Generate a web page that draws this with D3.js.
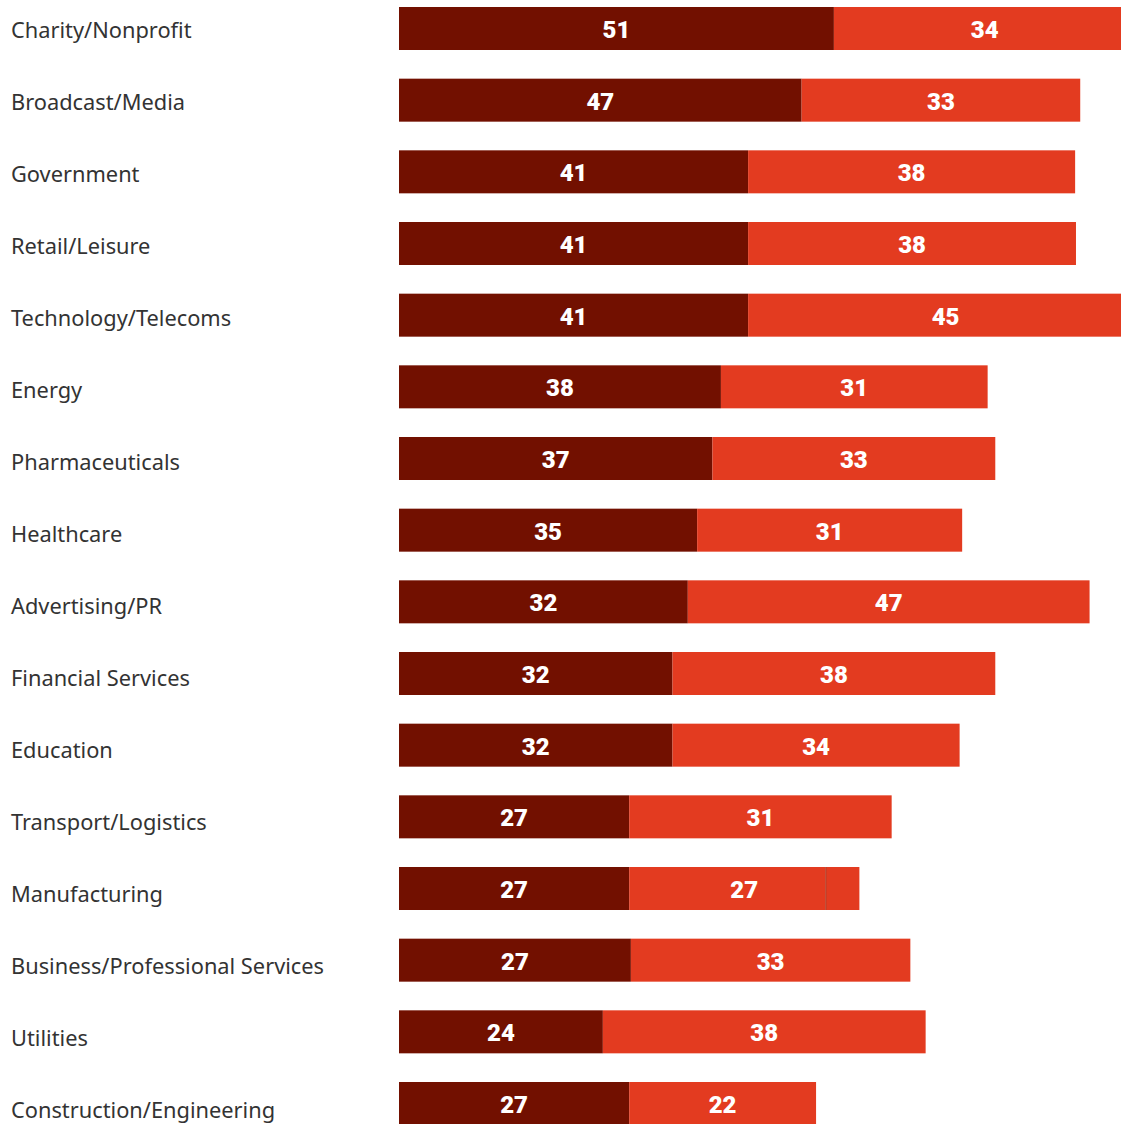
<!DOCTYPE html>
<html>
<head>
<meta charset="utf-8">
<script src="https://cdn.jsdelivr.net/npm/d3@7"></script>
<style>
  body { margin: 0; background: #fff; }
  .cat { font-family: "Noto Sans", "Open Sans", sans-serif; font-size: 21.8px; fill: #333; }
  .val { font-family: Roboto, Lato, sans-serif; font-weight: 900; font-size: 24px; fill: #fff; }
</style>
</head>
<body>
<div id="chart"></div>
<script>
// industries, top to bottom
var sectors = ["Charity/Nonprofit", "Broadcast/Media", "Government", "Retail/Leisure",
  "Technology/Telecoms", "Energy", "Pharmaceuticals", "Healthcare", "Advertising/PR",
  "Financial Services", "Education", "Transport/Logistics", "Manufacturing",
  "Business/Professional Services", "Utilities", "Construction/Engineering"];

// printed labels
var firstLabels = [51, 47, 41, 41, 41, 38, 37, 35, 32, 32, 32, 27, 27, 27, 24, 27];
var secondLabels = [34, 33, 38, 38, 45, 31, 33, 31, 47, 38, 34, 31, 27, 33, 38, 22];

// segment lengths as drawn
var firstLen = [51.2, 47.4, 41.1, 41.1, 41.1, 37.9, 36.9, 35.1, 34.0, 32.2, 32.2, 27.1, 27.1, 27.3, 24.0, 27.1];
var secondLen = [35.5, 32.8, 38.5, 38.6, 46.5, 31.4, 33.3, 31.2, 47.3, 38.0, 33.8, 30.9, 23.1, 32.9, 38.0, 22.0];
var extraLen = [0, 0, 0, 0, 0, 0, 0, 0, 0, 0, 0, 0, 4.0, 0, 0, 0];

var svgWidth = 1121, svgHeight = 1124;
var margin = { top: 7, left: 399 };
var bh = 43;

var svg = d3.select("#chart").append("svg")
  .attr("width", svgWidth)
  .attr("height", svgHeight);

var x = d3.scaleLinear().domain([0, 85]).range([margin.left, margin.left + 722]);

// top edge of each bar
var y = d3.scalePoint().domain(sectors).range([margin.top, 1082]);

// category labels sit on a slightly different rhythm
var yLabel = d3.scalePoint().domain(sectors).range([30, 30 + 72 * 15]);

var rows = sectors.map(function(s, i) {
  return { name: s, a: firstLen[i], b: secondLen[i], c: extraLen[i], la: firstLabels[i], lb: secondLabels[i] };
});

var g = svg.selectAll(".row").data(rows).enter().append("g")
  .attr("transform", d => `translate(0, ${y(d.name)})`);

g.append("rect")
  .attr("x", x(0))
  .attr("width", d => x(d.a) - x(0))
  .attr("height", bh)
  .attr("fill", "#721000");

g.append("rect")
  .attr("x", d => x(d.a))
  .attr("width", d => x(d.a + d.b) - x(d.a))
  .attr("height", bh)
  .attr("fill", "#e33b20");

g.filter(d => d.c > 0).append("rect")
  .attr("x", d => x(d.a + d.b))
  .attr("width", d => x(d.a + d.b + d.c) - x(d.a + d.b))
  .attr("height", bh)
  .attr("fill", "#e33b20");

g.filter(d => d.c > 0).append("line")
  .attr("x1", d => x(d.a + d.b) + 0.5)
  .attr("x2", d => x(d.a + d.b) + 0.5)
  .attr("y1", 0).attr("y2", bh)
  .attr("stroke", "#a8402c")
  .attr("stroke-width", 1);

g.append("text")
  .attr("class", "val")
  .attr("x", d => (x(0) + x(d.a)) / 2)
  .attr("y", bh / 2 + 1)
  .attr("dy", "0.36em")
  .attr("text-anchor", "middle")
  .text(d => d.la);

g.append("text")
  .attr("class", "val")
  .attr("x", d => (x(d.a) + x(d.a + d.b + d.c)) / 2)
  .attr("y", bh / 2 + 1)
  .attr("dy", "0.36em")
  .attr("text-anchor", "middle")
  .text(d => d.lb);

svg.selectAll(".cat").data(sectors).enter().append("text")
  .attr("class", "cat")
  .attr("x", 11)
  .attr("y", d => yLabel(d))
  .attr("dy", "0.36em")
  .text(d => d);
</script>
</body>
</html>
